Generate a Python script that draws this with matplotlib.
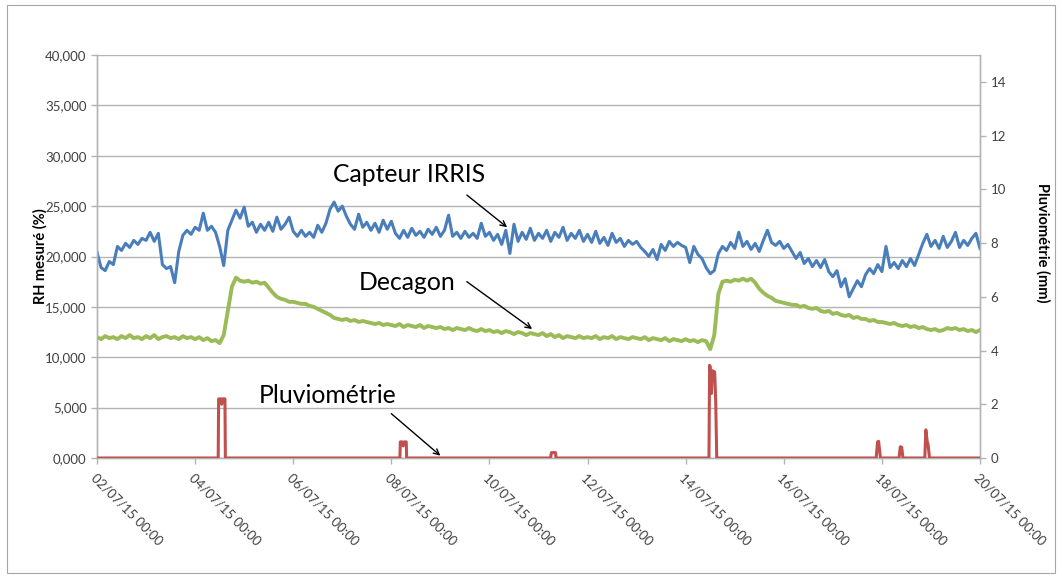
import numpy as np
import pandas as pd
import matplotlib
matplotlib.use("Agg")
import matplotlib.pyplot as plt
import matplotlib.dates as mdates
from matplotlib.ticker import FuncFormatter, MultipleLocator
from matplotlib.patches import Rectangle

plt.rcParams['font.family'] = ['Lato', 'DejaVu Sans']

# ---------------- data ----------------
start = pd.Timestamp("2015-07-02 00:00")
end = pd.Timestamp("2015-07-20 00:00")

# Capteur IRRIS (RH %, thousands), one value every 2 hours
irris_k = [
    20.4, 18.9, 18.6, 19.5, 19.2, 21.0, 20.6, 21.3, 20.9, 21.6, 21.2, 21.8,
    21.6, 22.4, 21.5, 22.3, 19.2, 18.8, 19.0, 17.4, 20.5, 22.1, 22.6, 22.2,
    22.9, 22.6, 24.3, 22.6, 23.0, 22.4, 21.0, 19.1, 22.6, 23.6, 24.6, 23.8,
    24.9, 23.0, 23.4, 22.4, 23.2, 22.6, 23.4, 22.5, 23.9, 22.7, 23.2, 23.9,
    22.5, 22.0, 22.6, 22.0, 22.4, 21.9, 23.1, 22.4, 23.3, 24.7, 25.4, 24.5,
    25.0, 24.0, 23.2, 22.7, 24.2, 22.9, 23.4, 22.6, 23.3, 22.4, 23.6, 22.7,
    23.5, 22.3, 21.8, 22.6, 21.9, 22.8, 22.1, 22.5, 21.9, 22.7, 22.2, 22.9,
    22.0, 22.6, 24.1, 22.0, 22.4, 21.8, 22.5, 21.9, 22.3, 21.8, 23.3, 22.0,
    22.4, 21.6, 22.2, 21.2, 22.6, 20.3, 23.2, 21.5, 22.4, 21.7, 22.8, 21.6,
    22.3, 21.8, 22.6, 21.5, 22.4, 21.9, 22.9, 21.6, 22.3, 21.8, 22.6, 21.5,
    22.2, 21.4, 22.5, 21.3, 21.9, 21.1, 22.3, 21.4, 21.8, 21.0, 21.6, 21.2,
    21.5, 20.9, 20.5, 20.0, 20.7, 19.7, 21.2, 20.6, 21.5, 21.0, 21.4, 21.1,
    20.9, 19.4, 21.0, 20.2, 19.8, 18.9, 18.3, 18.6, 20.3, 21.0, 20.6, 21.4,
    20.8, 22.4, 21.0, 21.5, 20.7, 21.3, 20.5, 21.6, 22.6, 21.4, 21.1, 21.5,
    20.8, 21.2, 20.5, 19.8, 20.4, 19.3, 19.8, 19.0, 19.6, 18.9, 19.7, 18.5,
    18.0, 18.6, 17.0, 17.8, 16.0, 16.8, 17.6, 17.0, 18.2, 18.8, 18.3, 19.2,
    18.5, 21.0, 18.9, 19.4, 18.8, 19.6, 19.0, 19.8, 19.1, 20.2, 21.3, 22.2,
    21.0, 21.6, 20.8, 22.0, 20.9, 21.5, 22.4, 20.9, 21.6, 21.1, 21.8, 22.3,
    20.8,
]

# Decagon (RH %, thousands), one value every 2 hours
decagon_k = [
    12.0, 11.8, 12.1, 11.9, 12.0, 11.8, 12.1, 11.9, 12.2, 11.9, 12.0, 11.8,
    12.1, 11.9, 12.2, 11.8, 12.0, 12.1, 11.9, 12.0, 11.8, 12.1, 11.9, 12.0,
    11.8, 12.0, 11.7, 11.9, 11.6, 11.7, 11.4, 12.2, 14.6, 17.0, 17.9, 17.6,
    17.5, 17.6, 17.4, 17.5, 17.3, 17.4, 16.9, 16.4, 16.0, 15.8, 15.7, 15.5,
    15.5, 15.4, 15.3, 15.3, 15.1, 15.0, 14.8, 14.6, 14.4, 14.2, 13.9, 13.8,
    13.7, 13.8, 13.6, 13.7, 13.5, 13.6, 13.5, 13.4, 13.3, 13.4, 13.2, 13.3,
    13.2, 13.1, 13.3, 13.0, 13.2, 13.1, 13.0, 13.2, 12.9, 13.1, 13.0, 12.9,
    13.0, 12.8, 12.9, 12.7, 12.9, 12.8, 12.7, 12.9, 12.7, 12.6, 12.8, 12.6,
    12.7, 12.5, 12.6, 12.4, 12.6, 12.5, 12.3, 12.5, 12.4, 12.2, 12.4, 12.3,
    12.2, 12.4, 12.1, 12.3, 12.0, 12.2, 11.9, 12.1, 12.0, 11.9, 12.1, 11.9,
    12.0, 11.9, 12.1, 11.8, 12.0, 11.9, 12.1, 11.8, 12.0, 11.9, 11.8, 12.0,
    11.9, 11.8, 12.0, 11.7, 11.9, 11.8, 11.7, 11.9, 11.6, 11.8, 11.7, 11.6,
    11.8, 11.6, 11.7, 11.5, 11.7, 11.6, 10.8, 12.2, 16.3, 17.5, 17.6, 17.5,
    17.7, 17.6, 17.8, 17.6, 17.8, 17.4, 16.8, 16.4, 16.1, 15.9, 15.6, 15.5,
    15.4, 15.3, 15.2, 15.2, 15.0, 15.1, 14.9, 14.8, 14.9, 14.6, 14.5, 14.6,
    14.3, 14.4, 14.2, 14.1, 14.2, 13.9, 14.0, 13.8, 13.8, 13.6, 13.7, 13.5,
    13.5, 13.4, 13.3, 13.4, 13.2, 13.1, 13.2, 13.0, 13.1, 12.9, 13.0, 12.8,
    12.7, 12.8, 12.6, 12.7, 12.9, 12.8, 12.9, 12.7, 12.8, 12.6, 12.7, 12.5,
    12.7,
]

# Pluviométrie (mm): sample times in hours after start, values in mm
rain_hours = [0.0, 59.3, 59.5, 60.6, 61.0, 61.4, 62.6, 62.8,
              148.2, 148.4, 149.3, 149.8, 150.3, 151.3, 151.5,
              221.9, 222.3, 224.3, 224.6,
              299.4, 299.7, 300.0, 300.6, 301.1, 302.2, 302.7, 303.2,
              381.2, 381.9, 382.4, 383.3,
              392.4, 393.0, 393.7, 394.3,
              405.0, 405.5, 406.2, 406.6, 407.3, 432.0]
rain_mm = [0.0, 0.0, 2.2, 2.2, 2.0, 2.2, 2.2, 0.0,
           0.0, 0.6, 0.6, 0.45, 0.6, 0.6, 0.0,
           0.0, 0.2, 0.2, 0.0,
           0.0, 3.45, 3.4, 2.4, 3.25, 3.2, 2.1, 0.0,
           0.0, 0.6, 0.62, 0.0,
           0.0, 0.42, 0.4, 0.0,
           0.0, 1.05, 0.6, 0.5, 0.0, 0.0]

annotations = ["Capteur IRRIS", "Decagon", "Pluviométrie"]

# ---------------- plot ----------------
times = pd.date_range(start, periods=len(irris_k), freq="2h")
rain_times = start + pd.to_timedelta(rain_hours, unit="h")

fig = plt.figure(figsize=(10.62, 5.77), dpi=100)
fig.patches.append(Rectangle((7 / 1062, 4 / 577), 1048 / 1062, 568 / 577,
                             transform=fig.transFigure, fill=False,
                             edgecolor="#a6a6a6", linewidth=0.8))

ax = fig.add_axes([97 / 1062, 1 - 458 / 577, 883 / 1062, 403 / 577])
ax2 = ax.twinx()

grid_c = "#b3b3b3"
tick_c = "#404040"

ax.plot(times, np.array(irris_k) * 1000, color="#4A7EBB", lw=2.2, zorder=3)
ax.plot(times, np.array(decagon_k) * 1000, color="#9BBB59", lw=2.8, zorder=3)
ax2.plot(rain_times, rain_mm, color="#C0504D", lw=2.2, zorder=3)

ax.set_xlim(start, end)
ax.set_ylim(0, 40000)
ax.yaxis.set_major_locator(MultipleLocator(5000))
ax.yaxis.set_major_formatter(FuncFormatter(lambda v, p: f"{int(v) // 1000},{int(v) % 1000:03d}"))
ax.grid(axis="y", color=grid_c, lw=1.0)
ax.set_axisbelow(True)

ax2.set_ylim(0, 15)
ax2.yaxis.set_major_locator(MultipleLocator(2))

ax.xaxis.set_major_locator(mdates.DayLocator(interval=2))
ax.xaxis.set_major_formatter(mdates.DateFormatter("%d/%m/%y %H:%M"))
for lbl in ax.get_xticklabels():
    lbl.set_rotation(-45)
    lbl.set_ha("left")
    lbl.set_va("top")
    lbl.set_rotation_mode("anchor")

for a in (ax, ax2):
    for s in a.spines.values():
        s.set_color(grid_c)
        s.set_linewidth(1.0)
    a.spines["top"].set_visible(False)
    a.tick_params(colors=grid_c, labelcolor=tick_c, labelsize=9.5, length=4, width=1)

ax.tick_params(axis="x", pad=6)
ax.set_ylabel("RH mesuré (%)", fontsize=10.5, fontweight="bold", color="black",
              rotation=90, ha="center", va="center")
ax.yaxis.set_label_coords((40 - 97) / 883, (458 - 256) / 403)
ax2.set_ylabel("Pluviométrie (mm)", fontsize=10.5, fontweight="bold", color="black",
               rotation=-90, ha="center", va="center")
ax2.yaxis.set_label_coords((1043 - 97) / 883, (458 - 243) / 403)

# annotations (data coordinates on primary axis)
def dt(days):
    return mdates.date2num(start + pd.Timedelta(days=days))

arrowp = dict(arrowstyle="->", color="black", lw=1.0, shrinkA=0, shrinkB=0)
ax.text(dt(6.36), 28100, annotations[0], fontsize=17.8, ha="center", va="center", color="black")
ax.annotate("", xy=(dt(8.36), 22900), xytext=(dt(7.54), 26100), arrowprops=arrowp)
ax.text(dt(6.33), 17400, annotations[1], fontsize=17.8, ha="center", va="center", color="black")
ax.annotate("", xy=(dt(8.87), 12800), xytext=(dt(7.54), 17500), arrowprops=arrowp)
ax.text(dt(4.71), 6250, annotations[2], fontsize=17.8, ha="center", va="center", color="black")
ax.annotate("", xy=(dt(7.0), 230), xytext=(dt(6.0), 4400), arrowprops=arrowp)

fig.savefig("out.png", dpi=100)
